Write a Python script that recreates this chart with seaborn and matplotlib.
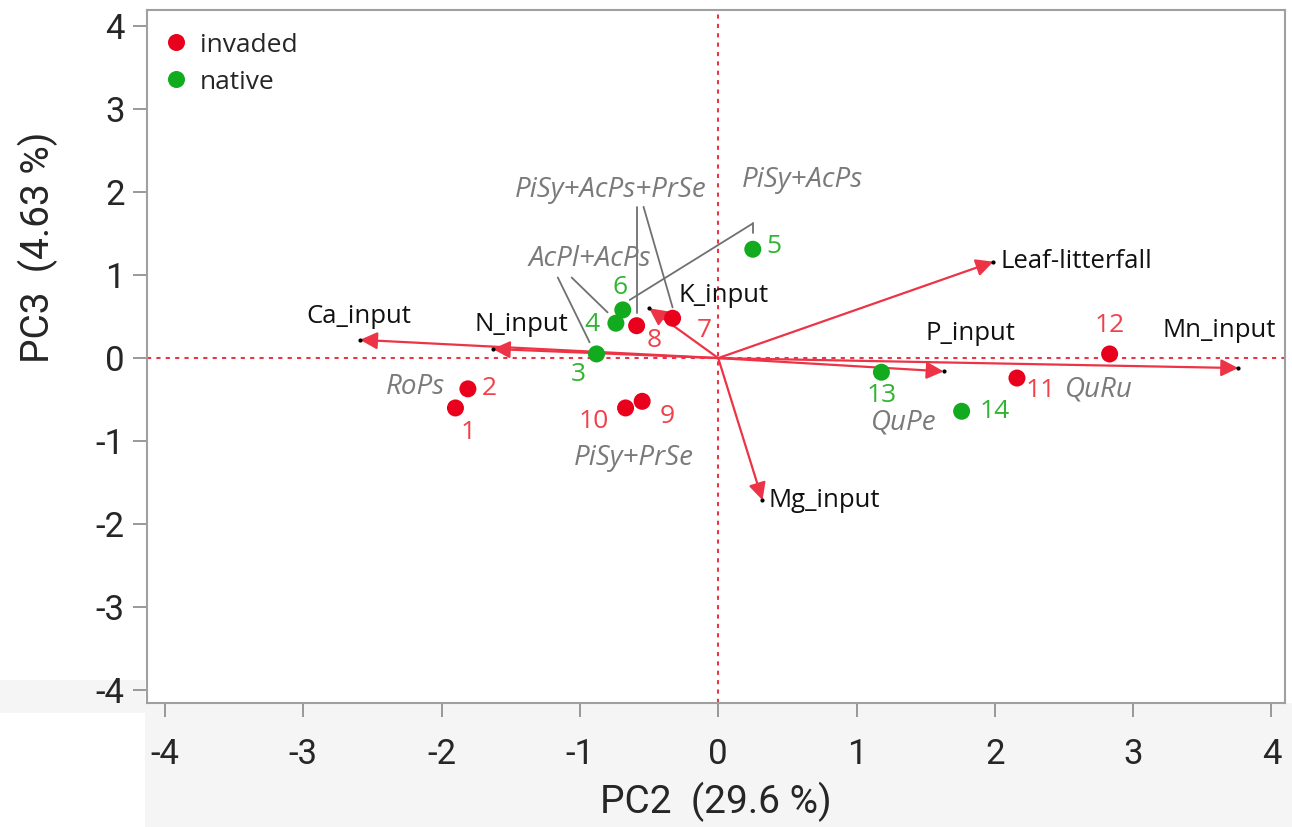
import matplotlib
matplotlib.use('Agg')

import numpy as np
import pandas as pd
import seaborn as sns
import matplotlib.pyplot as plt
from matplotlib.patches import Rectangle

# sample scores
site_ids = ['1', '2', '3', '4', '5', '6', '7', '8', '9', '10', '11', '12', '13', '14']
pc2 = [-1.90, -1.81, -0.88, -0.74, 0.25, -0.69, -0.33, -0.59, -0.55, -0.67, 2.16, 2.83, 1.18, 1.76]
pc3 = [-0.60, -0.37, 0.05, 0.42, 1.31, 0.58, 0.48, 0.39, -0.52, -0.60, -0.24, 0.05, -0.17, -0.64]
status = ['invaded', 'invaded', 'native', 'native', 'native', 'native', 'invaded',
          'invaded', 'invaded', 'invaded', 'invaded', 'invaded', 'native', 'native']

# loadings
var_names = ['Ca_input', 'N_input', 'K_input', 'Leaf-litterfall', 'P_input', 'Mn_input', 'Mg_input']
load_x = [-2.59, -1.63, -0.50, 1.99, 1.63, 3.76, 0.32]
load_y = [0.22, 0.11, 0.60, 1.16, -0.16, -0.12, -1.71]

# stand labels and leader lines
group_names = ['PiSy+AcPs+PrSe', 'PiSy+AcPs', 'AcPl+AcPs', 'RoPs', 'PiSy+PrSe', 'QuPe', 'QuRu']
group_x = [-0.78, 0.61, -0.93, -2.19, -0.61, 1.34, 2.75]
group_y = [2.02, 2.14, 1.19, -0.35, -1.20, -0.78, -0.38]
leaders = [
    [(-0.585, 1.82), (-0.585, 0.54)],
    [(-0.54, 1.82), (-0.33, 0.61)],
    [(0.25, 1.62), (-0.64, 0.70)],
    [(0.25, 1.62), (0.25, 1.50)],
    [(-1.16, 0.97), (-0.93, 0.19)],
    [(-1.06, 0.97), (-0.80, 0.55)],
]

pt_colors = {'invaded': '#e8001c', 'native': '#12aa1e'}
num_colors = {'invaded': '#f0414b', 'native': '#2fb52f'}
arrow_col = '#ec3446'

sns.set_style('white')
plt.rcParams['font.family'] = ['Open Sans', 'DejaVu Sans']
plt.rcParams['axes.unicode_minus'] = False
narrow = ['Roboto', 'DejaVu Sans']

fig = plt.figure(figsize=(12.92, 8.27), dpi=100)
ax = fig.add_axes([0.1138, 0.15, 0.881, 0.838])

# grey strip under the x axis
fig.patches.append(Rectangle((0.1122, 0), 0.888, 0.15, transform=fig.transFigure,
                             facecolor='#f5f5f5', edgecolor='none', zorder=-5))
fig.patches.append(Rectangle((0, 0.138), 0.1122, 0.04, transform=fig.transFigure,
                             facecolor='#f5f5f5', edgecolor='none', zorder=-5))

ax.axhline(0, color=arrow_col, lw=1.5, ls=(0, (2, 2.5)), zorder=1)
ax.axvline(0, color=arrow_col, lw=1.5, ls=(0, (2, 2.5)), zorder=1)

# leader lines
for seg in leaders:
    (x0, y0), (x1, y1) = seg
    ax.plot([x0, x1], [y0, y1], color='#707070', lw=1.3, zorder=2)

# loading arrows
for name, lx, ly in zip(var_names, load_x, load_y):
    ax.annotate('', xy=(lx, ly), xytext=(0, 0),
                arrowprops=dict(arrowstyle='-|>', color=arrow_col, lw=1.6,
                                mutation_scale=26, shrinkA=0, shrinkB=0),
                zorder=3)
    ax.plot(lx, ly, 'o', color='black', ms=2, zorder=4)

label_pos = {
    'Ca_input': (-2.6, 0.50, 'center'),
    'N_input': (-1.42, 0.40, 'center'),
    'K_input': (-0.29, 0.75, 'left'),
    'Leaf-litterfall': (2.04, 1.16, 'left'),
    'P_input': (1.50, 0.30, 'left'),
    'Mn_input': (3.21, 0.33, 'left'),
    'Mg_input': (0.36, -1.71, 'left'),
}
for name in var_names:
    tx, ty, ha = label_pos[name]
    ax.text(tx, ty, name, fontsize=18.5, color='#111111', ha=ha, va='center', zorder=5)

df = pd.DataFrame({'PC2': pc2, 'PC3': pc3, 'status': status, 'id': site_ids})
sns.scatterplot(data=df, x='PC2', y='PC3', hue='status', hue_order=['invaded', 'native'],
                palette=pt_colors, s=150, edgecolor='none', ax=ax, zorder=6)

num_offsets = {
    '1': (0.09, -0.29), '2': (0.10, 0.0), '3': (-0.13, -0.25), '4': (-0.17, -0.01),
    '5': (0.10, 0.03), '6': (-0.02, 0.27), '7': (0.23, -0.15), '8': (0.13, -0.18),
    '9': (0.18, -0.18), '10': (-0.23, -0.16), '11': (0.17, -0.15), '12': (0.0, 0.34),
    '13': (0.0, -0.28), '14': (0.13, 0.0),
}
for sid, x, y, st in zip(site_ids, pc2, pc3, status):
    dx, dy = num_offsets[sid]
    ha = 'left' if dx > 0.09 and abs(dy) < 0.05 else 'center'
    ax.text(x + dx, y + dy, sid, fontsize=19, color=num_colors[st], ha=ha, va='center', zorder=7)

for g, gx, gy in zip(group_names, group_x, group_y):
    ax.text(gx, gy, g, fontsize=20, color='#7a7a7a', style='italic', ha='center', va='center', zorder=7)

ax.set_xlim(-4.13, 4.10)
ax.set_ylim(-4.15, 4.19)
ax.set_xticks(np.arange(-4, 5, 1))
ax.set_yticks(np.arange(-4, 5, 1))
ax.tick_params(axis='both', labelsize=25, length=10, width=1.2, color='#888888', direction='out',
               bottom=True, left=True)
ax.tick_params(axis='x', pad=15)
ax.tick_params(axis='y', pad=6)
for lab in ax.get_xticklabels() + ax.get_yticklabels():
    lab.set_fontfamily(narrow)
for sp in ax.spines.values():
    sp.set_color('#a0a0a0')
    sp.set_linewidth(1.5)

ax.set_xlabel('PC2  (29.6 %)', fontsize=28, family=narrow, labelpad=8)
ax.set_ylabel('PC3  (4.63 %)', fontsize=28, family=narrow)
ax.yaxis.set_label_coords(-0.078, 0.657)

leg = ax.legend(loc='upper left', frameon=False, fontsize=19, handletextpad=0.4,
                handlelength=1.0, markerscale=1.0, borderaxespad=0.2, labelspacing=0.45,
                bbox_to_anchor=(0.0, 0.99))

fig.savefig('out.png', dpi=100)
plt.close()
